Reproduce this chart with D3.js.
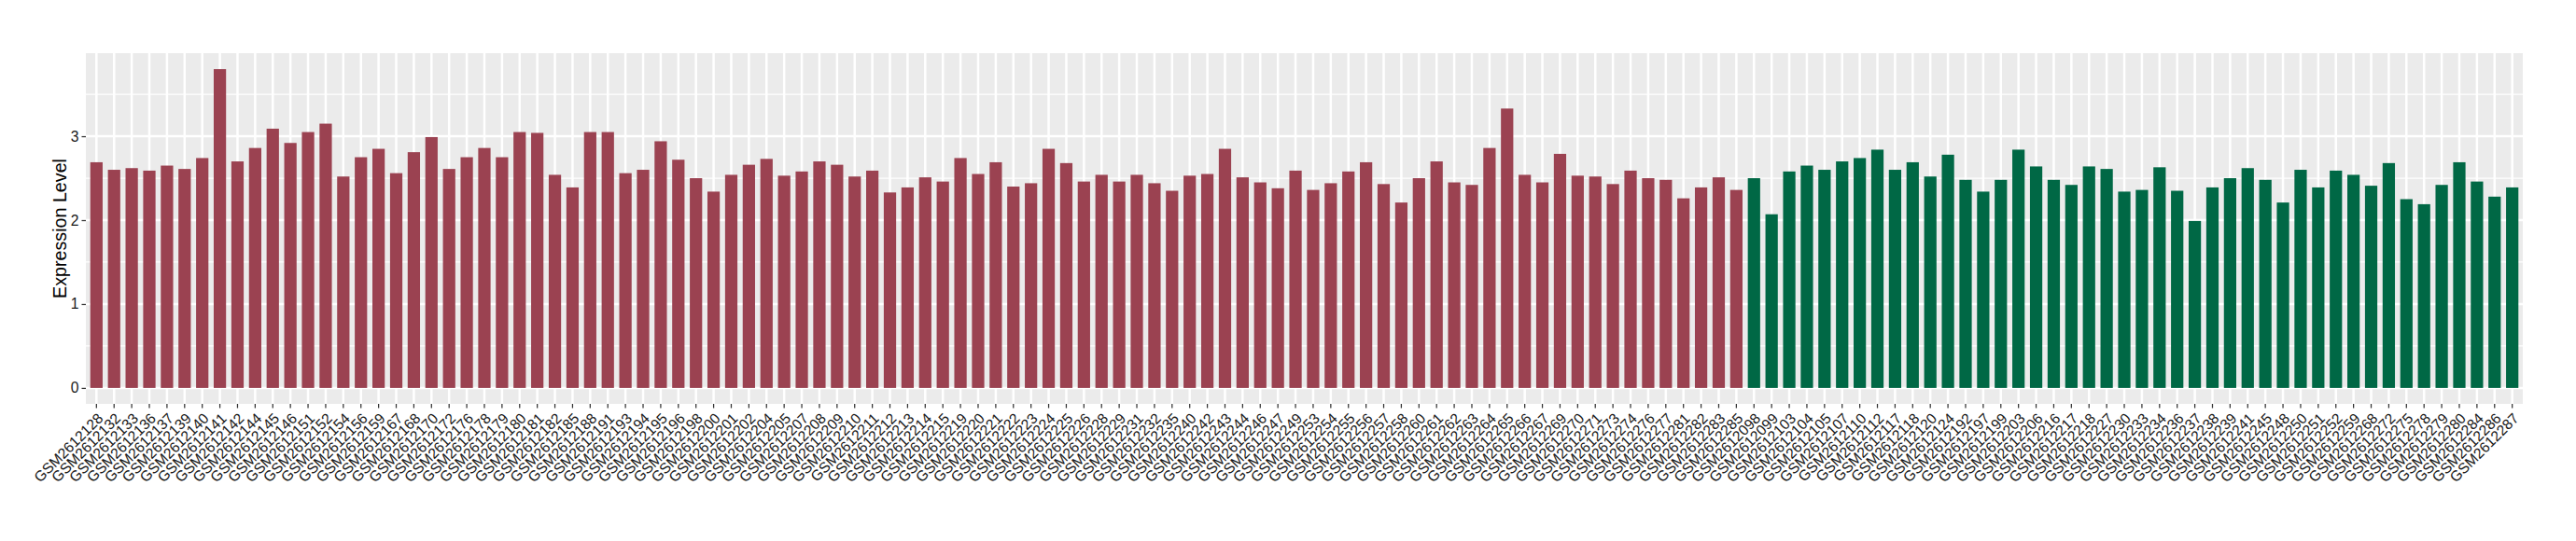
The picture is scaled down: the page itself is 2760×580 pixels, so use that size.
<!DOCTYPE html>
<html>
<head>
<meta charset="utf-8">
<script src="https://cdn.jsdelivr.net/npm/d3@7/dist/d3.min.js"></script>
<style>
  html, body { margin: 0; padding: 0; background: #ffffff; }
  svg { display: block; }
</style>
</head>
<body>
<svg id="chart" width="2760" height="580"></svg>
<script>
// ---- DATA ----
const tumorSamples = [
  "GSM2612128","GSM2612132","GSM2612133","GSM2612136","GSM2612137","GSM2612139","GSM2612140","GSM2612141","GSM2612142","GSM2612144",
  "GSM2612145","GSM2612146","GSM2612151","GSM2612152","GSM2612154","GSM2612156","GSM2612159","GSM2612167","GSM2612168","GSM2612170",
  "GSM2612172","GSM2612176","GSM2612178","GSM2612179","GSM2612180","GSM2612181","GSM2612182","GSM2612185","GSM2612188","GSM2612191",
  "GSM2612193","GSM2612194","GSM2612195","GSM2612196","GSM2612198","GSM2612200","GSM2612201","GSM2612202","GSM2612204","GSM2612205",
  "GSM2612207","GSM2612208","GSM2612209","GSM2612210","GSM2612211","GSM2612212","GSM2612213","GSM2612214","GSM2612215","GSM2612219",
  "GSM2612220","GSM2612221","GSM2612222","GSM2612223","GSM2612224","GSM2612225","GSM2612226","GSM2612228","GSM2612229","GSM2612231",
  "GSM2612232","GSM2612235","GSM2612240","GSM2612242","GSM2612243","GSM2612244","GSM2612246","GSM2612247","GSM2612249","GSM2612253",
  "GSM2612254","GSM2612255","GSM2612256","GSM2612257","GSM2612258","GSM2612260","GSM2612261","GSM2612262","GSM2612263","GSM2612264",
  "GSM2612265","GSM2612266","GSM2612267","GSM2612269","GSM2612270","GSM2612271","GSM2612273","GSM2612274","GSM2612276","GSM2612277",
  "GSM2612281","GSM2612282","GSM2612283","GSM2612285"
];
const tumorValues = [
  2.69, 2.60, 2.62, 2.59, 2.65, 2.61, 2.74, 3.80, 2.70, 2.86,
  3.09, 2.92, 3.05, 3.15, 2.52, 2.75, 2.85, 2.56, 2.81, 2.99,
  2.61, 2.75, 2.86, 2.75, 3.05, 3.04, 2.54, 2.39, 3.05, 3.05,
  2.56, 2.60, 2.94, 2.72, 2.50, 2.34, 2.54, 2.66, 2.73, 2.53,
  2.58, 2.70, 2.66, 2.52, 2.59, 2.33, 2.39, 2.51, 2.46, 2.74,
  2.55, 2.69, 2.40, 2.44, 2.85, 2.68, 2.46, 2.54, 2.46, 2.54,
  2.44, 2.35, 2.53, 2.55, 2.85, 2.51, 2.45, 2.38, 2.59, 2.36,
  2.44, 2.58, 2.69, 2.43, 2.21, 2.50, 2.70, 2.45, 2.42, 2.86,
  3.33, 2.54, 2.45, 2.79, 2.53, 2.52, 2.43, 2.59, 2.50, 2.48,
  2.26, 2.39, 2.51, 2.36
];
const normalSamples = [
  "GSM2612098","GSM2612099","GSM2612103","GSM2612104","GSM2612105","GSM2612107","GSM2612110","GSM2612112","GSM2612117","GSM2612118",
  "GSM2612120","GSM2612124","GSM2612192","GSM2612197","GSM2612199","GSM2612203","GSM2612206","GSM2612216","GSM2612217","GSM2612218",
  "GSM2612227","GSM2612230","GSM2612233","GSM2612234","GSM2612236","GSM2612237","GSM2612238","GSM2612239","GSM2612241","GSM2612245",
  "GSM2612248","GSM2612250","GSM2612251","GSM2612252","GSM2612259","GSM2612268","GSM2612272","GSM2612275","GSM2612278","GSM2612279",
  "GSM2612280","GSM2612284","GSM2612286","GSM2612287"
];
const normalValues = [
  2.50, 2.07, 2.58, 2.65, 2.60, 2.70, 2.74, 2.84, 2.60, 2.69,
  2.52, 2.78, 2.48, 2.34, 2.48, 2.84, 2.64, 2.48, 2.42, 2.64,
  2.61, 2.34, 2.36, 2.63, 2.35, 1.99, 2.39, 2.50, 2.62, 2.48,
  2.21, 2.60, 2.39, 2.59, 2.54, 2.41, 2.68, 2.25, 2.19, 2.42,
  2.69, 2.46, 2.28, 2.39
];
const yTicks = [0, 1, 2, 3];
const yMinorTicks = [0.5, 1.5, 2.5, 3.5];
const groupColors = { tumor: "#9B4251", normal: "#006845" };
const yTitle = "Expression Level";

// ---- BUILD ----
const rows = tumorSamples.map((s, i) => ({ sample: s, value: tumorValues[i], group: "tumor" }))
  .concat(normalSamples.map((s, i) => ({ sample: s, value: normalValues[i], group: "normal" })));

const svg = d3.select("#chart");
const W = 2760, H = 580;
const panel = { left: 92, right: 2703, top: 57, bottom: 433 };
const FONT = "'Liberation Sans', Arial, Helvetica, sans-serif";

svg.append("rect").attr("width", W).attr("height", H).attr("fill", "#ffffff");

const x = d3.scaleBand()
  .domain(rows.map(d => d.sample))
  .range([panel.left, panel.right])
  .paddingInner(0.3)
  .paddingOuter(0.25);

const yMax = d3.max(rows, d => d.value);
const y = d3.scaleLinear()
  .domain([-0.05 * yMax, 1.05 * yMax])
  .range([panel.bottom, panel.top]);

// panel background
svg.append("rect")
  .attr("x", panel.left).attr("y", panel.top)
  .attr("width", panel.right - panel.left)
  .attr("height", panel.bottom - panel.top)
  .attr("fill", "#EBEBEB");

const grid = svg.append("g");
grid.selectAll("line.minor").data(yMinorTicks).join("line")
  .attr("x1", panel.left).attr("x2", panel.right)
  .attr("y1", d => y(d)).attr("y2", d => y(d))
  .attr("stroke", "#ffffff").attr("stroke-width", 1.25);
grid.selectAll("line.majory").data(yTicks).join("line")
  .attr("x1", panel.left).attr("x2", panel.right)
  .attr("y1", d => y(d)).attr("y2", d => y(d))
  .attr("stroke", "#ffffff").attr("stroke-width", 2.5);
grid.selectAll("line.majorx").data(rows).join("line")
  .attr("x1", d => x(d.sample) + x.bandwidth() / 2)
  .attr("x2", d => x(d.sample) + x.bandwidth() / 2)
  .attr("y1", panel.top).attr("y2", panel.bottom)
  .attr("stroke", "#ffffff").attr("stroke-width", 2.5);

// bars
svg.append("g").selectAll("rect").data(rows).join("rect")
  .attr("x", d => x(d.sample))
  .attr("width", x.bandwidth())
  .attr("y", d => y(d.value))
  .attr("height", d => y(0) - y(d.value))
  .attr("fill", d => groupColors[d.group]);

// y axis
const yAxis = d3.axisLeft(y).tickValues(yTicks).tickSize(4.5).tickPadding(3).tickFormat(d3.format("d"));
const gy = svg.append("g").attr("transform", `translate(${panel.left},0)`).call(yAxis);
gy.select(".domain").remove();
gy.selectAll(".tick line").attr("stroke", "#333333").attr("stroke-width", 1.25);
gy.selectAll(".tick text").attr("fill", "#1a1a1a").style("font-family", FONT).style("font-size", "15.7px");

// x axis
const xAxis = d3.axisBottom(x).tickSize(4.5).tickPadding(0);
const gx = svg.append("g").attr("transform", `translate(0,${panel.bottom})`).call(xAxis);
gx.select(".domain").remove();
gx.selectAll(".tick line").attr("stroke", "#333333").attr("stroke-width", 1.25);
gx.selectAll(".tick text")
  .attr("fill", "#1a1a1a")
  .style("font-family", FONT).style("font-size", "15.7px")
  .attr("text-anchor", "end")
  .attr("dy", null)
  .attr("y", 0)
  .attr("transform", "translate(8,16.5) rotate(-45)");

// y title
svg.append("text")
  .attr("transform", `translate(71,${(panel.top + panel.bottom) / 2}) rotate(-90)`)
  .attr("text-anchor", "middle")
  .style("font-family", FONT).style("font-size", "19.7px")
  .attr("fill", "#000000")
  .text(yTitle);
</script>
</body>
</html>
